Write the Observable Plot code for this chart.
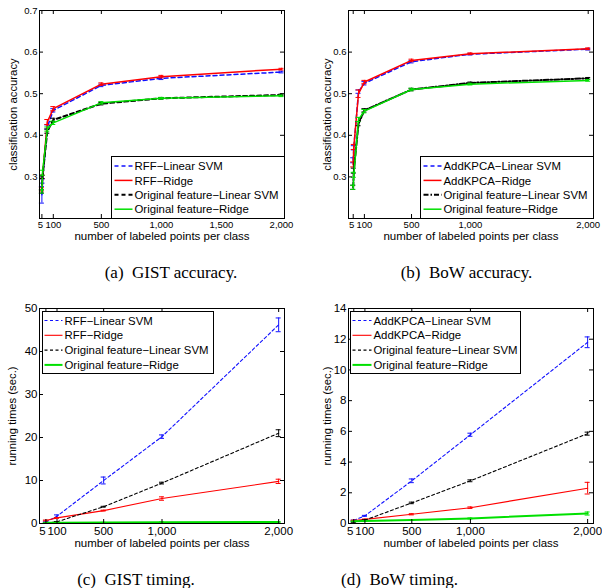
<!DOCTYPE html>
<html><head><meta charset="utf-8">
<script src="https://cdn.jsdelivr.net/npm/d3@7"></script>
<script src="https://cdn.jsdelivr.net/npm/@observablehq/plot@0.6"></script>
<style>
body{margin:0;background:#fff;}
#fig{position:relative;width:602px;height:588px;background:#fff;overflow:hidden;}
#fig > svg, #fig > div{position:absolute;}
</style></head>
<body><div id="fig"></div>
<script>
// ---------- data ----------
const accX = [5, 10, 50, 100, 500, 1000, 2000];
const timeX = [5, 100, 500, 1000, 2000];

const gistNames = ["RFF\u2212Linear SVM", "RFF\u2212Ridge", "Original feature\u2212Linear SVM", "Original feature\u2212Ridge"];
const bowNames = ["AddKPCA\u2212Linear SVM", "AddKPCA\u2212Ridge", "Original feature\u2212Linear SVM", "Original feature\u2212Ridge"];

// (a) GIST accuracy
const gistAccRffSvm = [0.257, 0.29, 0.42, 0.46, 0.52, 0.537, 0.552];
const gistAccRffSvmErr = [0.02, 0.005, 0.005, 0.004, 0.003, 0.003, 0.002];
const gistAccRffRidge = [0.27, 0.30, 0.432, 0.464, 0.523, 0.541, 0.559];
const gistAccRffRidgeErr = [0.004, 0.004, 0.006, 0.005, 0.003, 0.003, 0.002];
const gistAccOrigSvm = [0.265, 0.30, 0.41, 0.437, 0.476, 0.489, 0.497];
const gistAccOrigSvmErr = [0.004, 0.004, 0.005, 0.004, 0.003, 0.002, 0.002];
const gistAccOrigRidge = [0.265, 0.31, 0.415, 0.43, 0.478, 0.489, 0.495];
const gistAccOrigRidgeErr = [0.004, 0.006, 0.005, 0.004, 0.003, 0.002, 0.002];

// (b) BoW accuracy
const bowAccKpcaSvm = [0.34, 0.37, 0.505, 0.525, 0.577, 0.595, 0.607];
const bowAccKpcaSvmErr = [0.006, 0.005, 0.004, 0.004, 0.003, 0.002, 0.002];
const bowAccKpcaRidge = [0.33, 0.372, 0.50, 0.528, 0.58, 0.596, 0.608];
const bowAccKpcaRidgeErr = [0.006, 0.006, 0.009, 0.004, 0.003, 0.002, 0.002];
const bowAccOrigSvm = [0.275, 0.315, 0.428, 0.46, 0.51, 0.526, 0.537];
const bowAccOrigSvmErr = [0.005, 0.006, 0.005, 0.004, 0.003, 0.002, 0.002];
const bowAccOrigRidge = [0.275, 0.305, 0.438, 0.458, 0.51, 0.523, 0.532];
const bowAccOrigRidgeErr = [0.005, 0.006, 0.005, 0.004, 0.003, 0.002, 0.002];

// (c) GIST timing
const gistTimeRffSvm = [0.3, 1.7, 10.0, 20.2, 46.2];
const gistTimeRffSvmErr = [0.1, 0.3, 0.8, 0.4, 1.6];
const gistTimeRffRidge = [0.7, 1.3, 3.0, 5.8, 9.8];
const gistTimeRffRidgeErr = [0.1, 0.1, 0.1, 0.4, 0.5];
const gistTimeOrigSvm = [0.05, 0.4, 3.9, 9.4, 21.0];
const gistTimeOrigSvmErr = [0.02, 0.05, 0.1, 0.2, 0.8];
const gistTimeOrigRidge = [0.15, 0.2, 0.25, 0.3, 0.35];
const gistTimeOrigRidgeErr = [0.02, 0.02, 0.02, 0.03, 0.04];

// (d) BoW timing
const bowTimeKpcaSvm = [0.2, 0.5, 2.78, 5.78, 11.8];
const bowTimeKpcaSvmErr = [0.02, 0.03, 0.12, 0.1, 0.35];
const bowTimeKpcaRidge = [0.2, 0.27, 0.6, 1.03, 2.3];
const bowTimeKpcaRidgeErr = [0.02, 0.02, 0.04, 0.05, 0.38];
const bowTimeOrigSvm = [0.1, 0.22, 1.34, 2.78, 5.85];
const bowTimeOrigSvmErr = [0.02, 0.02, 0.05, 0.06, 0.1];
const bowTimeOrigRidge = [0.15, 0.17, 0.22, 0.33, 0.65];
const bowTimeOrigRidgeErr = [0.01, 0.01, 0.02, 0.03, 0.1];

const accXTicksA = [5, 100, 500, 1000, 1500, 2000];
const accXTicksB = [5, 100, 500, 1000, 2000];
const timeXTicks = [5, 100, 500, 1000, 2000];
const accYTicksA = [0.3, 0.4, 0.5, 0.6, 0.7];
const accYTicksB = [0.3, 0.4, 0.5, 0.6];
const gistTimeYTicks = [0, 10, 20, 30, 40, 50];
const bowTimeYTicks = [0, 2, 4, 6, 8, 10, 12, 14];

const xTitle = "number of labeled points per class";
const accYTitle = "classification accuracy";
const timeYTitle = "running times (sec.)";
const captions = ["(a)  GIST accuracy.", "(b)  BoW accuracy.", "(c)  GIST timing.", "(d)  BoW timing."];

// ---------- styles ----------
const BLUE = "#1010ff", RED = "#ff0000", BLACK = "#000000", GREEN = "#00e000";
const accStylesA = [
  {stroke: BLUE, width: 1.5, dash: "4,3"},
  {stroke: RED, width: 1.5, dash: null},
  {stroke: BLACK, width: 2, dash: "4,3"},
  {stroke: GREEN, width: 1.5, dash: null}
];
const accStylesB = [
  {stroke: BLUE, width: 1.5, dash: "4,3"},
  {stroke: RED, width: 1.5, dash: null},
  {stroke: BLACK, width: 2, dash: "5,2,1.5,2"},
  {stroke: GREEN, width: 1.5, dash: null}
];
const timeStyles = [
  {stroke: BLUE, width: 1.1, dash: "3,2.5"},
  {stroke: RED, width: 1.1, dash: null},
  {stroke: BLACK, width: 1.1, dash: "3,2.5"},
  {stroke: GREEN, width: 2, dash: null}
];

const fig = document.getElementById("fig");

function rowsOf(xs, ys, es) {
  return xs.map((x, i) => ({x, y: ys[i], e: es[i]}));
}

function panel(cfg) {
  const {left, top, width, height, margin, xDomain, yDomain, xTicks, yTicks, yFormat,
         tickFont, firstTickDx, xTitleDy, yTitleDx, yTitle, series, styles} = cfg;
  const fw = width - margin.left - margin.right;
  const fh = height - margin.top - margin.bottom;
  const marks = [];
  series.forEach((s, k) => {
    const st = styles[k];
    const rows = rowsOf(s.x, s.y, s.e);
    marks.push(Plot.line(rows, {x: "x", y: "y", stroke: st.stroke, strokeWidth: st.width, strokeDasharray: st.dash}));
    marks.push(Plot.ruleX(rows, {x: "x", y1: d => d.y - d.e, y2: d => d.y + d.e, stroke: st.stroke, strokeWidth: 1}));
    marks.push(Plot.ruleY(rows, {x1: "x", x2: "x", y: d => d.y - d.e, insetLeft: -2.5, insetRight: -2.5, stroke: st.stroke, strokeWidth: 1}));
    marks.push(Plot.ruleY(rows, {x1: "x", x2: "x", y: d => d.y + d.e, insetLeft: -2.5, insetRight: -2.5, stroke: st.stroke, strokeWidth: 1}));
  });
  const fmt = d3.format(",");
  const p = Plot.plot({
    width, height,
    marginLeft: margin.left, marginRight: margin.right, marginTop: margin.top, marginBottom: margin.bottom,
    style: {fontFamily: "'Liberation Sans', Arial, sans-serif", fontSize: tickFont + "px", background: "transparent", overflow: "visible"},
    x: {type: "linear", domain: xDomain},
    y: {type: "linear", domain: yDomain},
    marks: [
      ...marks,
      Plot.tickX(xTicks, {x: d => d, insetTop: fh - 4, stroke: "black"}),
      Plot.tickX(xTicks, {x: d => d, insetBottom: fh - 4, stroke: "black"}),
      Plot.tickY(yTicks, {y: d => d, insetRight: fw - 4, stroke: "black"}),
      Plot.tickY(yTicks, {y: d => d, insetLeft: fw - 4, stroke: "black"}),
      Plot.axisX(xTicks.slice(0, 1), {tickSize: 0, tickPadding: 3, tickFormat: fmt, label: null, fontSize: tickFont, fill: "black", dx: firstTickDx}),
      Plot.axisX(xTicks.slice(1), {tickSize: 0, tickPadding: 3, tickFormat: fmt, label: null, fontSize: tickFont, fill: "black"}),
      Plot.axisY(yTicks, {tickSize: 0, tickPadding: 2, tickFormat: yFormat, label: null, fontSize: tickFont, fill: "black"}),
      Plot.text([xTitle], {text: d => d, frameAnchor: "bottom", dy: xTitleDy, lineAnchor: "middle", textAnchor: "middle", fontSize: 11.5, fill: "black"}),
      Plot.text([yTitle], {text: d => d, frameAnchor: "left", dx: yTitleDx, rotate: -90, lineAnchor: "middle", textAnchor: "middle", fontSize: 11.3, fill: "black"}),
      Plot.frame({stroke: "black", strokeWidth: 1})
    ]
  });
  p.style.left = left + "px";
  p.style.top = top + "px";
  fig.appendChild(p);
}

panel({
  left: 0, top: 0, width: 300, height: 250,
  margin: {left: 39, right: 16, top: 10, bottom: 32},
  xDomain: [-15, 2025], yDomain: [0.2, 0.7],
  xTicks: accXTicksA, yTicks: accYTicksA, yFormat: d3.format(".1f"),
  tickFont: 9.5, firstTickDx: -1.5, xTitleDy: 17.5, yTitleDx: -26.5, yTitle: accYTitle,
  styles: accStylesA,
  series: [
    {x: accX, y: gistAccRffSvm, e: gistAccRffSvmErr},
    {x: accX, y: gistAccRffRidge, e: gistAccRffRidgeErr},
    {x: accX, y: gistAccOrigSvm, e: gistAccOrigSvmErr},
    {x: accX, y: gistAccOrigRidge, e: gistAccOrigRidgeErr}
  ]
});

panel({
  left: 300, top: 0, width: 302, height: 250,
  margin: {left: 48, right: 9, top: 10, bottom: 32},
  xDomain: [-35, 2045], yDomain: [0.2, 0.7],
  xTicks: accXTicksB, yTicks: accYTicksB, yFormat: d3.format(".1f"),
  tickFont: 9.5, firstTickDx: -1.5, xTitleDy: 17.5, yTitleDx: -21.5, yTitle: accYTitle,
  styles: accStylesB,
  series: [
    {x: accX, y: bowAccKpcaSvm, e: bowAccKpcaSvmErr},
    {x: accX, y: bowAccKpcaRidge, e: bowAccKpcaRidgeErr},
    {x: accX, y: bowAccOrigSvm, e: bowAccOrigSvmErr},
    {x: accX, y: bowAccOrigRidge, e: bowAccOrigRidgeErr}
  ]
});

panel({
  left: 0, top: 290, width: 300, height: 265,
  margin: {left: 39, right: 16, top: 18, bottom: 32},
  xDomain: [-50, 2050], yDomain: [0, 50],
  xTicks: timeXTicks, yTicks: gistTimeYTicks, yFormat: d3.format("d"),
  tickFont: 11.5, firstTickDx: -3.5, xTitleDy: 20, yTitleDx: -27.5, yTitle: timeYTitle,
  styles: timeStyles,
  series: [
    {x: timeX, y: gistTimeRffSvm, e: gistTimeRffSvmErr},
    {x: timeX, y: gistTimeRffRidge, e: gistTimeRffRidgeErr},
    {x: timeX, y: gistTimeOrigSvm, e: gistTimeOrigSvmErr},
    {x: timeX, y: gistTimeOrigRidge, e: gistTimeOrigRidgeErr}
  ]
});

panel({
  left: 300, top: 290, width: 302, height: 265,
  margin: {left: 48, right: 9, top: 18, bottom: 32},
  xDomain: [-40, 2050], yDomain: [0, 14],
  xTicks: timeXTicks, yTicks: bowTimeYTicks, yFormat: d3.format("d"),
  tickFont: 11.5, firstTickDx: -3.5, xTitleDy: 20, yTitleDx: -21.5, yTitle: timeYTitle,
  styles: timeStyles,
  series: [
    {x: timeX, y: bowTimeKpcaSvm, e: bowTimeKpcaSvmErr},
    {x: timeX, y: bowTimeKpcaRidge, e: bowTimeKpcaRidgeErr},
    {x: timeX, y: bowTimeOrigSvm, e: bowTimeOrigSvmErr},
    {x: timeX, y: bowTimeOrigRidge, e: bowTimeOrigRidgeErr}
  ]
});

// ---------- legends & captions overlay ----------
const over = d3.select(fig).append("svg")
  .attr("width", 602).attr("height", 588)
  .style("left", "0px").style("top", "0px");

function legend({x, y, w, h, row0, gap, l1, l2, tx, names, styles}) {
  const g = over.append("g").attr("font-family", "'Liberation Sans', Arial, sans-serif").attr("font-size", 11.4);
  g.append("rect").attr("x", x + 0.5).attr("y", y + 0.5).attr("width", w).attr("height", h)
    .attr("fill", "#fff").attr("stroke", "#000");
  names.forEach((n, i) => {
    const cy = y + row0 + i * gap;
    const st = styles[i];
    g.append("line").attr("x1", x + l1).attr("x2", x + l2).attr("y1", cy).attr("y2", cy)
      .attr("stroke", st.stroke).attr("stroke-width", st.width).attr("stroke-dasharray", st.dash);
    g.append("text").attr("x", x + tx).attr("y", cy).attr("dy", "0.36em").attr("fill", "#000").text(n);
  });
}

legend({x: 111, y: 156, w: 173, h: 62, row0: 10, gap: 14.4, l1: 3.5, l2: 21.5, tx: 23.5, names: gistNames, styles: accStylesA});
legend({x: 420, y: 156, w: 173, h: 62, row0: 10, gap: 14.4, l1: 3.5, l2: 21.5, tx: 23.5, names: bowNames, styles: accStylesB});
legend({x: 42, y: 311, w: 171, h: 62, row0: 9.5, gap: 14.8, l1: 2.5, l2: 20.5, tx: 22.5, names: gistNames, styles: timeStyles});
legend({x: 350, y: 311, w: 170, h: 62, row0: 9.5, gap: 14.8, l1: 2.5, l2: 21.5, tx: 23.5, names: bowNames, styles: timeStyles});

const capPos = [[171, 278], [466.5, 278], [136, 585], [399.5, 585]];
captions.forEach((c, i) => {
  over.append("text").attr("x", capPos[i][0]).attr("y", capPos[i][1])
    .attr("text-anchor", "middle").attr("font-family", "'Liberation Serif', 'Times New Roman', serif")
    .attr("font-size", 17).attr("fill", "#000").style("white-space", "pre").text(c);
});
</script>
</body></html>
